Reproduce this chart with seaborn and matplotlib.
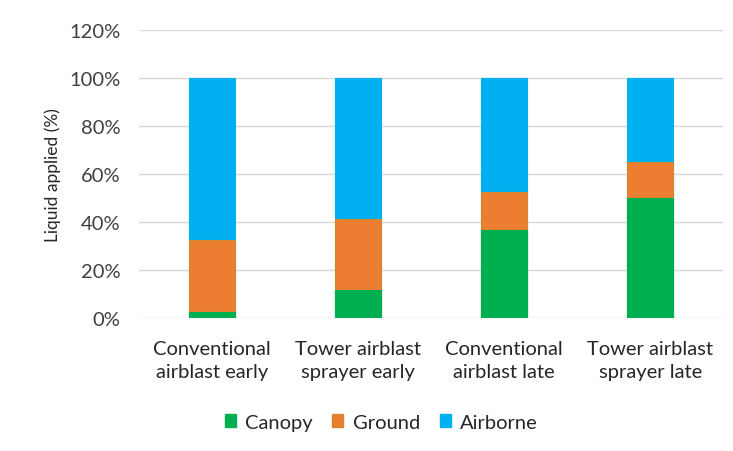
import matplotlib
matplotlib.use("Agg")
import matplotlib.pyplot as plt
import seaborn as sns
import pandas as pd
import numpy as np
from matplotlib.patches import Patch
from matplotlib.ticker import PercentFormatter

categories = ["Conventional\nairblast early", "Tower airblast\nsprayer early",
              "Conventional\nairblast late", "Tower airblast\nsprayer late"]
canopy = [2.5, 11.7, 36.7, 50.0]
ground = [30.0, 29.7, 15.8, 15.0]
airborne = [67.5, 58.6, 47.5, 35.0]

series = ["Canopy", "Ground", "Airborne"]
colors = {"Canopy": "#00B050", "Ground": "#ED7D31", "Airborne": "#00B0F0"}
edges = {"Canopy": "#00B050", "Ground": "#D08A2A", "Airborne": "#00B0F0"}

sns.set_theme(style="white")
plt.rcParams["font.family"] = ["Lato", "DejaVu Sans"]

df = pd.DataFrame({"category": categories, "Canopy": canopy,
                   "Ground": ground, "Airborne": airborne})
cum = df[series].cumsum(axis=1)

fig = plt.figure(figsize=(7.33, 4.52), dpi=100)
ax = fig.add_axes([0.189, 0.294, 0.798, 0.637])

# stacked bars: draw the tallest cumulative layer first
for s in reversed(series):
    sns.barplot(x=df["category"], y=cum[s], color=colors[s], width=0.316,
                edgecolor=edges[s], linewidth=0.8, saturation=1, ax=ax,
                zorder=3)

ax.set_ylim(0, 120)
ax.set_yticks(np.arange(0, 121, 20))
ax.yaxis.set_major_formatter(PercentFormatter(decimals=0))
ax.set_xlim(-0.5, 3.5)
ax.grid(axis="y", color="#D9D9D9", linewidth=1, zorder=0)
ax.set_axisbelow(True)
for sp in ax.spines.values():
    sp.set_visible(False)
ax.tick_params(axis="y", length=0, labelsize=14.5, colors="#404040", pad=13)
ax.tick_params(axis="x", length=0, labelsize=14.5, colors="#262626", pad=16)
for lbl in ax.get_xticklabels():
    lbl.set_linespacing(1.4)
ax.set_xlabel("")
ax.set_ylabel("Liquid applied (%)", fontsize=12.5, color="#262626", labelpad=6)

handles = [Patch(facecolor=colors[s], edgecolor=edges[s], label=s) for s in series]
fig.legend(handles=handles, loc="center", bbox_to_anchor=(0.52, 0.064), ncol=3,
           frameon=False, fontsize=14.5, handlelength=0.55, handleheight=0.55,
           handletextpad=0.45, columnspacing=1.0, labelcolor="#262626")

fig.savefig("out.png", dpi=100)
